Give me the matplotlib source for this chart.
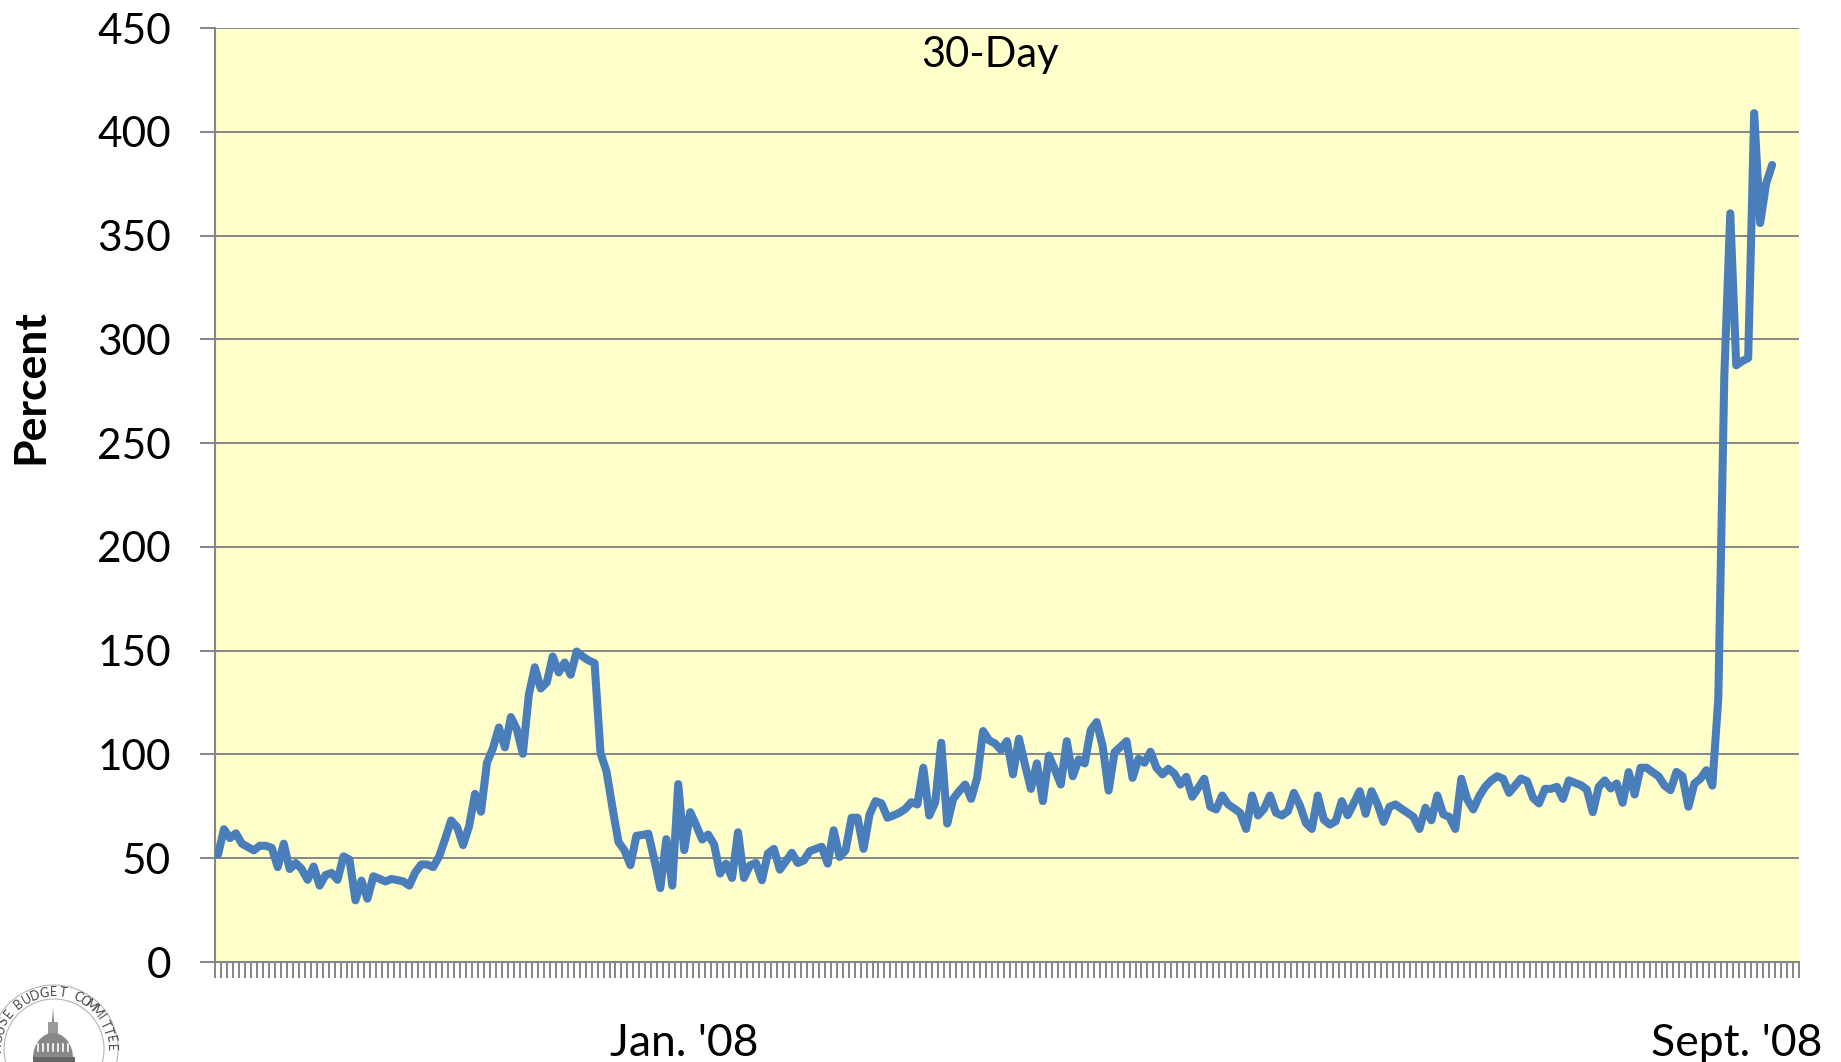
import numpy as np
import matplotlib
matplotlib.use('Agg')
import matplotlib.pyplot as plt
from matplotlib.patches import Circle, Ellipse, Polygon, Rectangle

# spread on the 30-day paper, one value per category
spread_a = [51.7, 64, 59.7, 62, 57, 55.4, 53.8, 56, 56, 55, 45.7, 57, 44.8, 47.7, 44.8, 39.6,
            46, 36.8, 41.9, 42.9, 39.6, 50.9, 49.3, 29.7, 39.2, 30.5, 41.3, 40.1, 38.8, 40,
            39.5, 38.8, 36.8, 43.2, 47, 47, 45.7, 50.9, 59.2, 68.2, 65, 56.3, 65.3, 81, 72.4,
            96, 103, 113, 103.4, 118, 112, 100.3, 128.7, 142, 131.8, 134.7, 147.2, 139.5,
            144.3, 138.4, 149.6, 147.2, 145.3, 144, 100.6, 91.8, 74.2, 57.8, 53.8, 46.7, 60.8,
            61.2, 61.8, 49.3, 35.6, 59.2, 36.8, 85.7]
spread_b = [53.9, 72.2, 65.9, 59, 61.4, 56.6, 42.6, 47.4, 40.5, 62.5, 40.5, 46.6, 47.7, 39.4,
            52.3, 54.5, 44.5, 48.5, 52.6, 47.7, 48.9, 53.4, 54.5, 55.5, 47.4, 63.5, 50.6, 53.9,
            69.5, 69.5, 54.5, 71, 77.5, 76.4, 69.5, 70.6, 71.9, 73.8, 77, 75.9, 93.6, 70.6, 77,
            105.6, 66.7, 78.6, 82.3, 85.5, 78.6, 88.7, 111.3, 106.8, 105.3, 102.1, 106.4, 90.4,
            107.6, 95.2, 83.4, 95.7, 77.5, 99.5, 92.8, 85.5, 106.4, 89.5, 97.6, 95.7, 111.7,
            115.6, 104, 82.6, 101.1, 103.7, 106.4, 88.7]
spread_c = [97.9, 96, 101.3, 93.6, 90.4, 93.1, 90.8, 85.5, 89.2, 79.6, 83.9, 88.3, 74.8, 73.5,
            80.2, 75.9, 74, 71.9, 64.1, 80.2, 70.6, 73.8, 80.2, 71.9, 70.6, 72.7, 81.5, 75.4,
            67, 64.1, 80.2, 68.6, 66.2, 67.8, 77.5, 70.7, 76.4, 82.3, 71.4, 82.3, 75.9, 67.5,
            74.8, 75.9, 73.8, 71.9, 69.9, 64.1, 74.3, 68.3, 80.2, 71.1, 69.9, 64.1, 88.3, 78.3,
            73.5, 79.9, 84.4, 87.5, 89.5, 88.3, 81.5, 85, 88.4, 87.1, 79.1, 76.4, 83.4, 83.4,
            84.4, 78.6, 87.5, 86.3, 85.2, 83.1, 72.2, 84.4]
spread_d = [87.5, 83.6, 86, 76.7, 91.5, 80.7, 93.6, 93.6, 91.5, 89.5, 85, 82.8, 91.6, 89.5,
            74.8, 86, 88.3, 92.4, 85, 127, 282, 360.7, 287.5, 289.5, 291, 409, 356, 375, 384]
spread = spread_a + spread_b + spread_c + spread_d

n_categories = 265
y_ticks = [0, 50, 100, 150, 200, 250, 300, 350, 400, 450]
x_label_pos = [78, 254]
x_labels = ["Jan. '08", "Sept. '08"]

plt.rcParams['font.family'] = ['Lato', 'DejaVu Sans']
W, H = 1841, 1062
GREY = '#868686'

fig = plt.figure(figsize=(W / 100, H / 100), dpi=100)
ax = fig.add_axes([215 / W, (H - 962) / H, 1584 / W, 934 / H])
ax.set_facecolor('#FFFFCC')

ax.plot(range(len(spread)), spread, color='#4A7EBB', lw=5.8,
        solid_joinstyle='round', solid_capstyle='round', zorder=3)

ax.set_xlim(-0.5, n_categories - 0.5)
ax.set_ylim(0, 450)
ax.set_yticks(y_ticks)
ax.grid(axis='y', color=GREY, lw=1.4, zorder=1)
ax.set_axisbelow(True)
for s in ['top', 'right']:
    ax.spines[s].set_visible(False)
for s in ['left', 'bottom']:
    ax.spines[s].set_color(GREY)
    ax.spines[s].set_linewidth(1.5)
ax.tick_params(axis='y', length=10.8, width=1.4, color=GREY, pad=21, labelsize=30.5)

ax.set_xticks(np.arange(n_categories + 1) - 0.5, minor=True)
ax.tick_params(axis='x', which='minor', length=11.5, width=1.4, color=GREY)
ax.set_xticks(x_label_pos)
ax.set_xticklabels(x_labels)
ax.tick_params(axis='x', which='major', length=0, pad=44, labelsize=32)

ax.text(0.4895, 0.971, '30-Day', transform=ax.transAxes, ha='center', va='center', fontsize=30)
fig.text(30 / W, 1 - 387 / H, 'Percent', rotation=90, ha='center', va='center',
         fontsize=32, fontweight='bold')

# committee seal, bottom left, cut off by the page edge
seal = fig.add_axes([0, 0, 1, 1], zorder=-1)
seal.set_xlim(0, W)
seal.set_ylim(H, 0)
seal.axis('off')
cx, cy = 54, 1049
seal.add_patch(Circle((cx, cy), 64, fc='none', ec='#b5b5b5', lw=0.8))
seal.add_patch(Circle((cx, cy), 50, fc='none', ec='#b5b5b5', lw=0.8))
for word, a0, a1 in [('HOUSE', -88, -52), ('BUDGET', -38, 9), ('COMMITTEE', 25, 88)]:
    for ch, ang in zip(word, np.linspace(a0, a1, len(word))):
        a = np.radians(ang)
        seal.text(cx + 57 * np.sin(a), cy - 57 * np.cos(a), ch, rotation=-ang, ha='center',
                  va='center', fontsize=9, color='#444444')
seal.add_patch(Polygon([[51, 1040], [53, 1007], [55, 1040]], fc='#777777', ec='none'))
seal.add_patch(Rectangle((48, 1022), 10, 15, fc='#999999', ec='none'))
seal.add_patch(Ellipse((53, 1058), 40, 50, fc='#888888', ec='none'))
for x in range(38, 70, 5):
    seal.plot([x, x], [1044, 1051], color='white', lw=1.2)
seal.add_patch(Rectangle((33, 1057), 42, 8, fc='#666666', ec='none'))

fig.savefig('out.png', dpi=100)
